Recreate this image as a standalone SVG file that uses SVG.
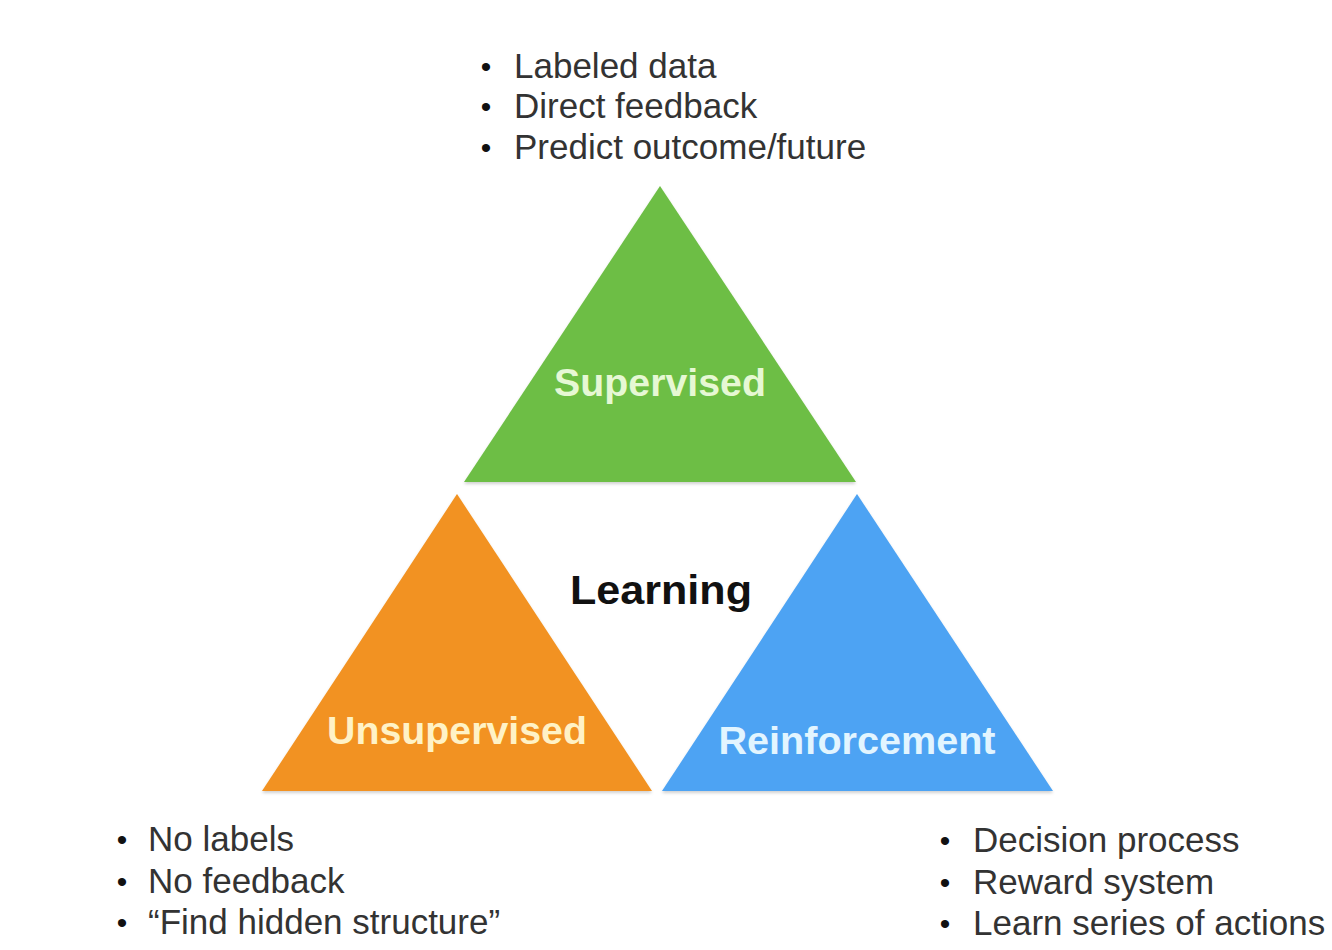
<svg xmlns="http://www.w3.org/2000/svg" width="1332" height="950" viewBox="0 0 1332 950">
  <defs>
    <filter id="sh" x="-10%" y="-10%" width="120%" height="125%">
      <feDropShadow dx="0" dy="2" stdDeviation="1.5" flood-color="#000" flood-opacity="0.18"/>
    </filter>
  </defs>
  <style>
    .lbl { font-family: "Liberation Sans", Arial, sans-serif; font-weight: bold; font-size: 39px; text-anchor: middle; }
    .bul { font-family: "Liberation Sans", Arial, sans-serif; font-size: 35px; fill: #333333; }
    .dot { font-family: "Liberation Sans", Arial, sans-serif; font-size: 30px; fill: #111; text-anchor: middle; }
  </style>
  <rect width="1332" height="950" fill="#ffffff"/>

  <g id="supervised">
    <polygon points="660,186 464,482 856,482" fill="#6DBE45" filter="url(#sh)"/>
    <text class="lbl" x="660" y="396" fill="#E6F8D4" textLength="212" lengthAdjust="spacingAndGlyphs">Supervised</text>
  </g>

  <g id="unsupervised">
    <polygon points="457,494 262,791 652,791" fill="#F29220" filter="url(#sh)"/>
    <text class="lbl" x="457" y="744" fill="#FFF2C6" textLength="260" lengthAdjust="spacingAndGlyphs">Unsupervised</text>
  </g>

  <g id="reinforcement">
    <polygon points="857,494 662,791 1053,791" fill="#4DA3F3" filter="url(#sh)"/>
    <text class="lbl" x="857" y="754" fill="#E2F5FF" font-size="36" textLength="277" lengthAdjust="spacingAndGlyphs">Reinforcement</text>
  </g>

  <g id="learning">
    <text x="661" y="604" font-family="Liberation Sans, Arial, sans-serif" font-weight="bold" font-size="41" fill="#111" text-anchor="middle" textLength="182" lengthAdjust="spacingAndGlyphs">Learning</text>
  </g>

  <g id="supervised-notes">
    <text class="dot" x="486" y="77">•</text>
    <text class="bul" x="514" y="78">Labeled data</text>
    <text class="dot" x="486" y="117">•</text>
    <text class="bul" x="514" y="118">Direct feedback</text>
    <text class="dot" x="486" y="158">•</text>
    <text class="bul" x="514" y="159">Predict outcome/future</text>
  </g>

  <g id="unsupervised-notes">
    <text class="dot" x="122" y="850">•</text>
    <text class="bul" x="148" y="851">No labels</text>
    <text class="dot" x="122" y="892">•</text>
    <text class="bul" x="148" y="893">No feedback</text>
    <text class="dot" x="122" y="933">•</text>
    <text class="bul" x="148" y="934">“Find hidden structure”</text>
  </g>

  <g id="reinforcement-notes">
    <text class="dot" x="945" y="851">•</text>
    <text class="bul" x="973" y="852">Decision process</text>
    <text class="dot" x="945" y="893">•</text>
    <text class="bul" x="973" y="894">Reward system</text>
    <text class="dot" x="945" y="934">•</text>
    <text class="bul" x="973" y="935">Learn series of actions</text>
  </g>

  <g id="connectors"></g>
</svg>
